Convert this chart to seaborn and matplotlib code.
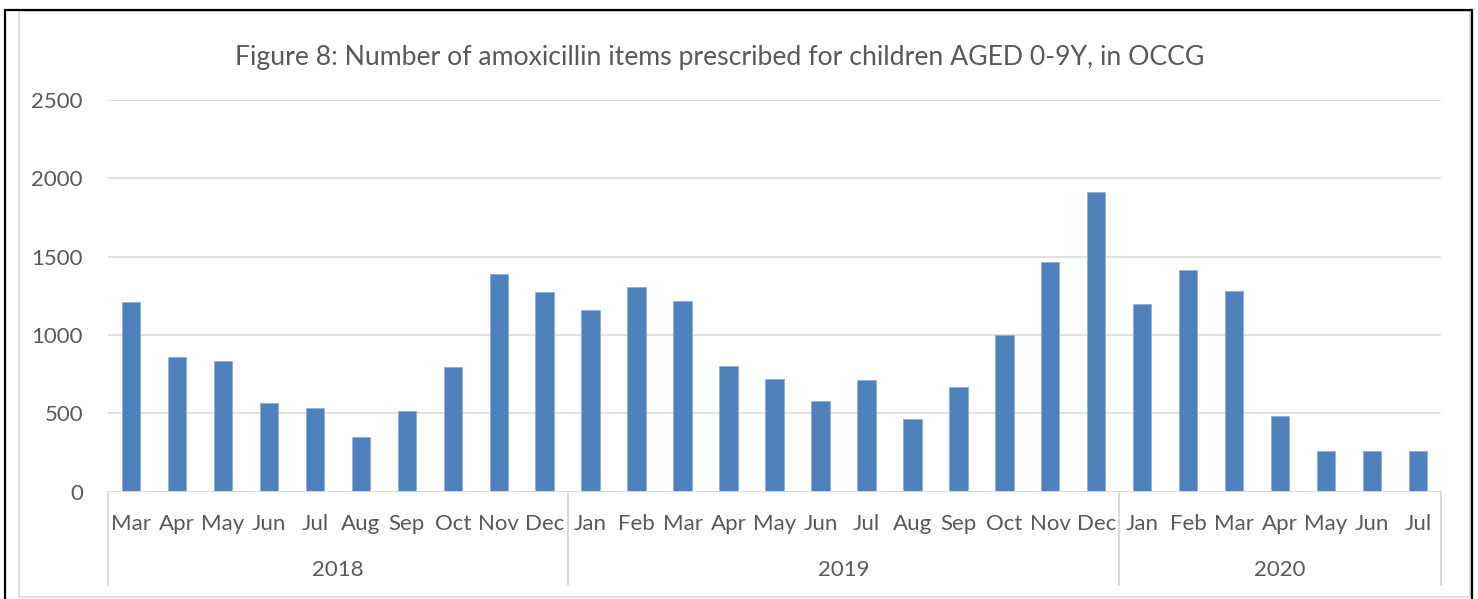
import matplotlib
matplotlib.use("Agg")
import matplotlib.pyplot as plt
import matplotlib.transforms as mtransforms
from matplotlib.lines import Line2D
from matplotlib.patches import Rectangle
import pandas as pd
import seaborn as sns

# Monthly amoxicillin items, children aged 0-9
months = ["Mar", "Apr", "May", "Jun", "Jul", "Aug", "Sep", "Oct", "Nov", "Dec",
          "Jan", "Feb", "Mar", "Apr", "May", "Jun", "Jul", "Aug", "Sep", "Oct", "Nov", "Dec",
          "Jan", "Feb", "Mar", "Apr", "May", "Jun", "Jul"]
years = ["2018"] * 10 + ["2019"] * 12 + ["2020"] * 7
items = [1213, 860, 837, 563, 533, 348, 516, 799, 1391, 1277,
         1157, 1308, 1217, 803, 722, 580, 716, 461, 669, 1003, 1465, 1911,
         1198, 1412, 1283, 480, 259, 257, 261]
year_labels = ["2018", "2019", "2020"]
y_ticks = [0, 500, 1000, 1500, 2000, 2500]
title = "Figure 8: Number of amoxicillin items prescribed for children AGED 0-9Y, in OCCG"

df = pd.DataFrame({"slot": [f"{y}-{i:02d}" for i, y in enumerate(years)],
                   "month": months, "year": years, "items": items})

sns.set_theme(style="white")
plt.rcParams["font.family"] = ["Lato", "DejaVu Sans"]

TEXT = "#595959"
GRID = "#D9D9D9"
BAR = "#4F81BD"
FS = 16

W, H = 1478, 599
fig = plt.figure(figsize=(W / 100, H / 100), dpi=100)
ax = fig.add_axes([108 / W, 1 - 491.7 / H, (1441 - 108) / W, (491.7 - 100) / H])

sns.barplot(data=df, x="slot", y="items", color=BAR, width=0.4,
            saturation=1, ax=ax, edgecolor="#8FAEDB", linewidth=0.6, zorder=3)

ax.set_xlim(-0.5, len(items) - 0.5)
ax.set_ylim(0, 2500)
ax.set_yticks(y_ticks)
ax.set_yticklabels([str(v) for v in y_ticks], color=TEXT, fontsize=FS)
ax.set_xticks(range(len(months)))
ax.set_xticklabels(months, color=TEXT, fontsize=FS)
ax.tick_params(axis="x", length=0, pad=16)
ax.tick_params(axis="y", length=0, pad=18)
ax.set_xlabel("")
ax.set_ylabel("")

for s in ax.spines.values():
    s.set_visible(False)
for v in y_ticks[1:]:
    ax.axhline(v, color=GRID, lw=1.1, zorder=1)
ax.axhline(0, color=GRID, lw=1.4, zorder=4)

# Year group separators and labels below the month axis
trans = mtransforms.blended_transform_factory(ax.transData, ax.transAxes)
bounds = [-0.5]
start = 0
for yl in year_labels:
    n = years.count(yl)
    bounds.append(start + n - 0.5)
    ax.text(start + (n - 1) / 2, -0.2, yl, transform=trans, ha="center", va="center",
            color=TEXT, fontsize=FS)
    start += n
for b in bounds:
    ax.add_line(Line2D([b, b], [0, -0.238], transform=trans, color=GRID, lw=1.4,
                       clip_on=False))

fig.text(720 / W, 1 - 58 / H, title, ha="center", va="center", color=TEXT, fontsize=19.2)

# Chart border and outer frame
fig.add_artist(Rectangle((19 / W, 1 - 597 / H), (1470 - 19) / W, (597 - 11) / H,
                         transform=fig.transFigure, fill=False, edgecolor=GRID, lw=1.2))
for xs, ys in [([5, 5], [10, 599]), ([5, 1472], [10, 10]), ([1472, 1472], [10, 599])]:
    fig.add_artist(Line2D([x / W for x in xs], [1 - y / H for y in ys],
                          transform=fig.transFigure, color="black", lw=1.6))

fig.savefig("out.png", dpi=100)
